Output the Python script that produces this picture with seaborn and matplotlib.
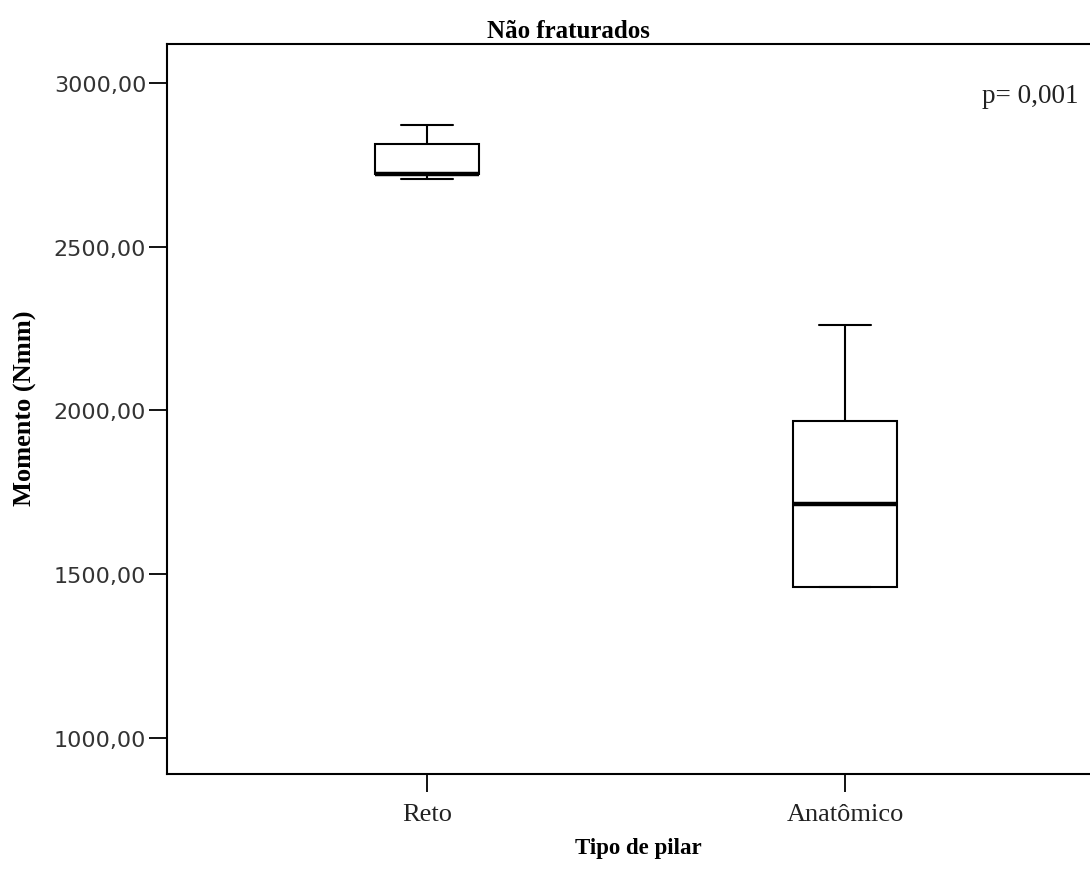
import matplotlib
matplotlib.use("Agg")
import matplotlib.pyplot as plt
import seaborn as sns
import pandas as pd
from matplotlib.ticker import FuncFormatter

# Data
categories = ["Reto", "Anatômico"]
reto_values = [2707, 2722, 2722, 2814, 2872]
anatomico_values = [1461, 1461, 1714, 1968, 2261]
y_ticks = [1000, 1500, 2000, 2500, 3000]

df = pd.DataFrame({
    "Tipo de pilar": [categories[0]] * len(reto_values) + [categories[1]] * len(anatomico_values),
    "Momento (Nmm)": reto_values + anatomico_values,
})

sns.set_theme(style="white")
plt.rcParams["font.family"] = ["Liberation Serif", "DejaVu Serif"]

fig = plt.figure(figsize=(10.9, 8.7), dpi=100)
ax = fig.add_axes([167 / 1090, 95 / 870, 938 / 1090, 730 / 870])

sns.boxplot(
    data=df, x="Tipo de pilar", y="Momento (Nmm)", order=categories,
    width=0.25, whis=1.5, color="white", saturation=1, linecolor="black",
    linewidth=1.5, fliersize=0, ax=ax,
    medianprops=dict(color="black", linewidth=3.2),
    boxprops=dict(facecolor="white", edgecolor="black"),
)

ax.set_xlim(-0.622, 1.622)
ax.set_ylim(890, 3119)
ax.set_yticks(y_ticks)
ax.yaxis.set_major_formatter(FuncFormatter(lambda v, p: f"{v:.2f}".replace(".", ",")))

for s in ax.spines.values():
    s.set_color("black")
    s.set_linewidth(1.5)
    s.set_visible(True)

ax.tick_params(axis="both", which="major", direction="out", length=13, width=1.3,
               color="black", bottom=True, left=True)
ax.tick_params(axis="y", pad=2)
ax.tick_params(axis="x", pad=8)
for lab in ax.get_yticklabels():
    lab.set_family("DejaVu Sans")
    lab.set_fontsize(16)
    lab.set_color("#333333")
for lab in ax.get_xticklabels():
    lab.set_family(["Liberation Serif"])
    lab.set_fontsize(19)
    lab.set_color("#222222")

ax.set_xlabel("Tipo de pilar", fontsize=16.5, fontweight="bold", color="black")
ax.xaxis.set_label_coords((638 - 167) / 938, (775 - 838) / 730)
ax.set_ylabel("Momento (Nmm)", fontsize=19, fontweight="bold", color="black",
              va="center")
ax.yaxis.set_label_coords((25 - 167) / 938, (775 - 408) / 730)
ax.set_title("Não fraturados", fontsize=18, fontweight="bold", color="black",
             x=(568 - 167) / 938, pad=5)

ax.text((1079 - 167) / 938, (775 - 103) / 730, "p= 0,001", transform=ax.transAxes,
        ha="right", va="baseline", fontsize=19.5, family=["Liberation Serif"],
        color="#222222")

fig.savefig("out.png", dpi=100)
